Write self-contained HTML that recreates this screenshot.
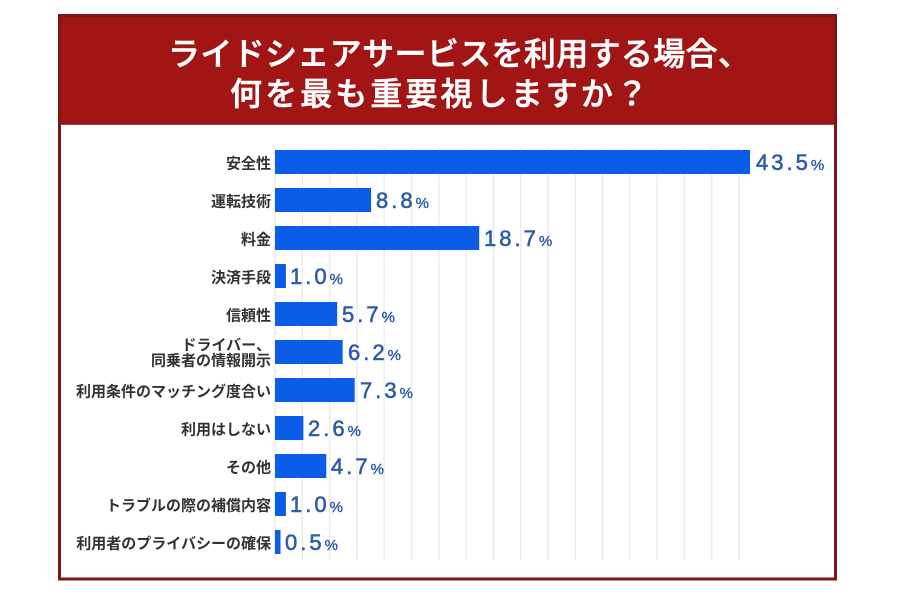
<!DOCTYPE html>
<html>
<head>
<meta charset="utf-8">
<style>
html,body{margin:0;padding:0;background:#fff;}
svg{display:block;}
.cat{font-family:"Liberation Sans","Noto Sans CJK JP",sans-serif;font-size:15px;font-weight:bold;fill:#333;}
.val{font-family:"Liberation Sans","Noto Sans CJK JP",sans-serif;font-size:22px;fill:#2e5ca8;stroke:#2e5ca8;stroke-width:0.6px;letter-spacing:3px;}
.pct{font-size:15px;letter-spacing:0;stroke-width:0.4px;}
.ttl{font-family:"Liberation Sans","Noto Sans CJK JP",sans-serif;font-size:32px;font-weight:500;fill:#fff;stroke:#fff;stroke-width:0.6px;}
</style>
</head>
<body>
<svg width="900" height="600" viewBox="0 0 900 600" xmlns="http://www.w3.org/2000/svg">
<rect x="0" y="0" width="900" height="600" fill="#fff"/>
<!-- frame -->
<rect x="59" y="14" width="778" height="110" fill="#a11515"/>
<line x1="59" y1="124" x2="837" y2="124" stroke="#7d1515" stroke-width="1.5"/>
<rect x="59.5" y="15.5" width="776" height="563.5" fill="none" stroke="#7d1515" stroke-width="3"/>
<!-- title -->
<text class="ttl" x="168" y="65" textLength="582" lengthAdjust="spacing">ライドシェアサービスを利用する場合、</text>
<text class="ttl" x="230" y="105" textLength="418" lengthAdjust="spacing">何を最も重要視しますか？</text>
<!-- grid -->
<g stroke="#ececec" stroke-width="1.5">
<line x1="275" y1="147" x2="275" y2="560"/>
<line x1="302.3" y1="147" x2="302.3" y2="560"/>
<line x1="329.6" y1="147" x2="329.6" y2="560"/>
<line x1="356.9" y1="147" x2="356.9" y2="560"/>
<line x1="384.2" y1="147" x2="384.2" y2="560"/>
<line x1="411.5" y1="147" x2="411.5" y2="560"/>
<line x1="438.8" y1="147" x2="438.8" y2="560"/>
<line x1="466.1" y1="147" x2="466.1" y2="560"/>
<line x1="493.4" y1="147" x2="493.4" y2="560"/>
<line x1="520.7" y1="147" x2="520.7" y2="560"/>
<line x1="548.0" y1="147" x2="548.0" y2="560"/>
<line x1="575.3" y1="147" x2="575.3" y2="560"/>
<line x1="602.6" y1="147" x2="602.6" y2="560"/>
<line x1="629.9" y1="147" x2="629.9" y2="560"/>
<line x1="657.2" y1="147" x2="657.2" y2="560"/>
<line x1="684.5" y1="147" x2="684.5" y2="560"/>
<line x1="711.8" y1="147" x2="711.8" y2="560"/>
<line x1="739.1" y1="147" x2="739.1" y2="560"/>
</g>
<!-- bars -->
<g fill="#0b5ce6">
<rect x="275" y="150" width="475.0" height="24"/>
<rect x="275" y="188" width="96.1" height="24"/>
<rect x="275" y="226" width="204.2" height="24"/>
<rect x="275" y="264" width="10.9" height="24"/>
<rect x="275" y="302" width="62.2" height="24"/>
<rect x="275" y="340" width="67.7" height="24"/>
<rect x="275" y="378" width="79.7" height="24"/>
<rect x="275" y="416" width="28.4" height="24"/>
<rect x="275" y="454" width="51.3" height="24"/>
<rect x="275" y="492" width="10.9" height="24"/>
<rect x="275" y="530" width="5.5" height="24"/>
</g>
<!-- category labels -->
<g class="cat" text-anchor="end">
<text x="271" y="168.5">安全性</text>
<text x="271" y="206.5">運転技術</text>
<text x="271" y="244.5">料金</text>
<text x="271" y="282.5">決済手段</text>
<text x="271" y="320.5">信頼性</text>
<text x="271" y="350">ドライバー、</text>
<text x="271" y="365.5">同乗者の情報開示</text>
<text x="271" y="396.5">利用条件のマッチング度合い</text>
<text x="271" y="434.5">利用はしない</text>
<text x="271" y="472.5">その他</text>
<text x="271" y="510.5">トラブルの際の補償内容</text>
<text x="271" y="548.5">利用者のプライバシーの確保</text>
</g>
<!-- value labels -->
<g class="val">
<text x="756" y="170">43.5<tspan class="pct">%</tspan></text>
<text x="376" y="208">8.8<tspan class="pct">%</tspan></text>
<text x="484" y="246">18.7<tspan class="pct">%</tspan></text>
<text x="290" y="284">1.0<tspan class="pct">%</tspan></text>
<text x="342" y="322">5.7<tspan class="pct">%</tspan></text>
<text x="348" y="360">6.2<tspan class="pct">%</tspan></text>
<text x="360" y="398">7.3<tspan class="pct">%</tspan></text>
<text x="308" y="436">2.6<tspan class="pct">%</tspan></text>
<text x="331" y="474">4.7<tspan class="pct">%</tspan></text>
<text x="290" y="512">1.0<tspan class="pct">%</tspan></text>
<text x="285" y="550">0.5<tspan class="pct">%</tspan></text>
</g>
</svg>
</body>
</html>
